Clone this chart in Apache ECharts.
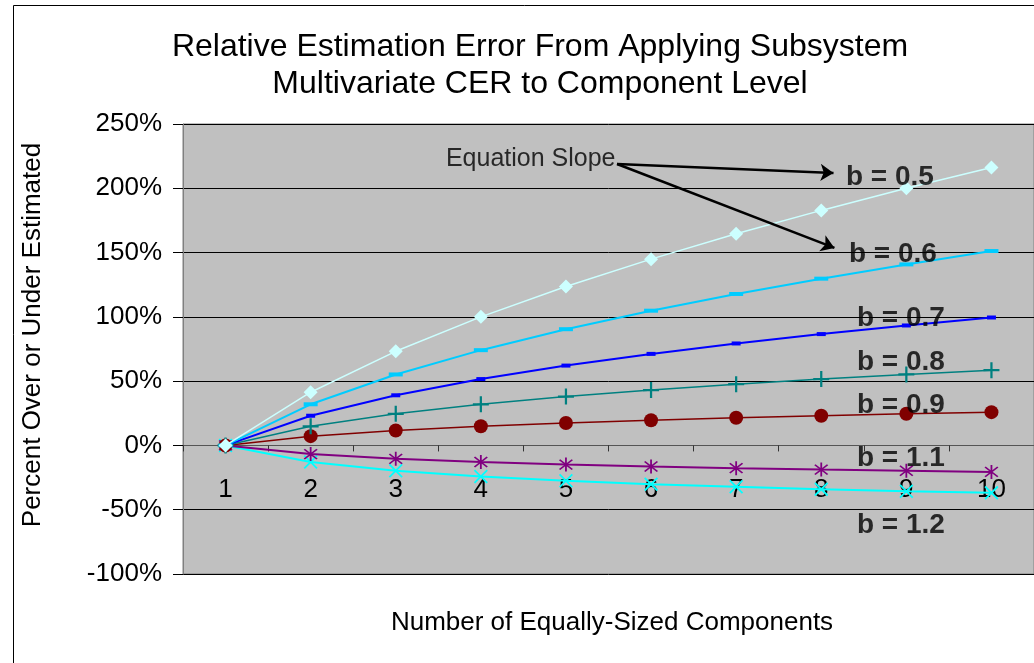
<!DOCTYPE html>
<html>
<head>
<meta charset="utf-8">
<script src="https://cdn.jsdelivr.net/npm/echarts@6/dist/echarts.min.js"></script>
<style>
html,body{margin:0;padding:0;background:#fff;}
#c{width:1034px;height:663px;}
</style>
</head>
<body>
<div id="c"></div>
<script>
// ---- data ----
var categories = ['1','2','3','4','5','6','7','8','9','10'];
var seriesNames = ['b = 0.5','b = 0.6','b = 0.7','b = 0.8','b = 0.9','b = 1.1','b = 1.2'];
var b05 = [0, 41.4, 73.2, 100.0, 123.6, 144.9, 164.6, 182.8, 200.0, 216.2];
var b06 = [0, 32.0, 55.2, 74.1, 90.4, 104.8, 117.8, 129.7, 140.8, 151.2];
var b07 = [0, 23.1, 39.0, 51.6, 62.1, 71.2, 79.3, 86.6, 93.3, 99.5];
var b08 = [0, 14.9, 24.6, 32.0, 38.0, 43.1, 47.6, 51.6, 55.2, 58.5];
var b09 = [0, 7.2, 11.6, 14.9, 17.5, 19.6, 21.5, 23.1, 24.6, 25.9];
var b11 = [0, -6.7, -10.4, -12.9, -14.9, -16.4, -17.7, -18.8, -19.7, -20.6];
var b12 = [0, -12.9, -19.7, -24.2, -27.5, -30.1, -32.2, -34.0, -35.6, -36.9];
var yTicks = {min: -100, max: 250, step: 50};

// annotation positions in data space (x: category position 1..10, y: percent)
var labelTexts = ['b = 0.5','b = 0.6','b = 0.7','b = 0.8','b = 0.9','b = 1.1','b = 1.2'];
var labelX = [8.284, 8.319, 8.413, 8.413, 8.413, 8.413, 8.413];
var labelY = [208.8, 148.9, 99.1, 64.9, 31.4, -9.8, -61.9];
var noteText = 'Equation Slope';
var noteX = 5.588, noteY = 222.8;
var arrowStart = [5.6, 218.9];
var arrowEnds = [[8.144, 211.9], [8.155, 153.6]];

// ---- chart ----
var chart = echarts.init(document.getElementById('c'), null, {renderer: 'canvas'});
var FONT = '"Liberation Sans", Arial, sans-serif';

var plusPath = 'path://M4.3,0H5.7V4.3H10V5.7H5.7V10H4.3V5.7H0V4.3H4.3Z';
var starPath = 'path://M4.5,0H5.5V10H4.5Z M1.15,1.85L1.85,1.15L8.85,8.15L8.15,8.85Z M8.15,1.15L8.85,1.85L1.85,8.85L1.15,8.15Z';
var xPath = 'path://M1.15,1.85L1.85,1.15L8.85,8.15L8.15,8.85Z M8.15,1.15L8.85,1.85L1.85,8.85L1.15,8.15Z';

function lineSeries(name, data, color, width, symbol, size, z) {
  return {
    name: name, type: 'line', data: data, z: z,
    xAxisIndex: 0, yAxisIndex: 0,
    symbol: symbol, symbolSize: size, showSymbol: true,
    lineStyle: {color: color, width: width},
    itemStyle: {color: color, borderWidth: 0},
    emphasis: {disabled: true},
    animation: false
  };
}

var labelData = labelTexts.map(function (t, i) { return [labelX[i], labelY[i], t]; });
var plotRect = {left: 183, top: 124, width: 853, height: 450};

var option = {
  backgroundColor: '#ffffff',
  animation: false,
  title: {
    text: 'Relative Estimation Error From Applying Subsystem\nMultivariate CER to Component Level',
    left: 535, top: 24, textAlign: 'center',
    textStyle: {fontFamily: FONT, fontSize: 32, fontWeight: 'normal', color: '#000', lineHeight: 37}
  },
  grid: [{
    left: plotRect.left, top: plotRect.top, width: plotRect.width, height: plotRect.height,
    show: true, backgroundColor: '#c0c0c0', borderColor: '#808080', borderWidth: 1,
    containLabel: false
  }, {
    left: plotRect.left, top: plotRect.top, width: plotRect.width, height: plotRect.height,
    show: false, containLabel: false
  }],
  xAxis: [{
    gridIndex: 0, type: 'category', data: categories, boundaryGap: true,
    axisLine: {show: true, onZero: false, lineStyle: {color: '#555', width: 1}},
    axisTick: {show: true, inside: false, length: 6, alignWithLabel: false, lineStyle: {color: '#333'}},
    axisLabel: {fontFamily: FONT, fontSize: 26, color: '#000', margin: 31},
    splitLine: {show: false}
  }, {
    gridIndex: 1, type: 'value', min: 0.5, max: 10.5, show: false
  }],
  yAxis: [{
    gridIndex: 0, type: 'value', min: yTicks.min, max: yTicks.max, interval: yTicks.step,
    axisLine: {show: true, lineStyle: {color: '#808080'}},
    axisTick: {show: true, length: 10, lineStyle: {color: '#000'}},
    axisLabel: {fontFamily: FONT, fontSize: 26, color: '#000', margin: 21, formatter: '{value}%'},
    splitLine: {show: true, lineStyle: {color: '#000', width: 1}}
  }, {
    gridIndex: 1, type: 'value', min: yTicks.min, max: yTicks.max, show: false
  }],
  graphic: [
    {type: 'rect', shape: {x: 13.5, y: 5.5, width: 1100, height: 800}, style: {fill: 'none', stroke: '#000', lineWidth: 1}, silent: true, z: 0},
    {type: 'text', x: 33, y: 335, rotation: Math.PI / 2, style: {text: 'Percent Over or Under Estimated', font: '26px ' + FONT, fill: '#000', textAlign: 'center', textVerticalAlign: 'middle'}},
    {type: 'text', x: 612, y: 623, style: {text: 'Number of Equally-Sized Components', font: '26px ' + FONT, fill: '#000', textAlign: 'center', textVerticalAlign: 'middle'}}
  ],
  series: [
    lineSeries(seriesNames[6], b12, '#00ffff', 2, xPath, 14, 2),
    lineSeries(seriesNames[5], b11, '#800080', 2, starPath, 14, 3),
    lineSeries(seriesNames[4], b09, '#800000', 1.5, 'circle', 14, 4),
    lineSeries(seriesNames[3], b08, '#008080', 1.5, plusPath, 16, 5),
    lineSeries(seriesNames[2], b07, '#0000ff', 2, 'rect', [9, 4], 6),
    lineSeries(seriesNames[1], b06, '#00ccff', 2, 'rect', [14, 4], 7),
    lineSeries(seriesNames[0], b05, '#ccffff', 1.5, 'diamond', 14, 8),
    {
      type: 'lines', coordinateSystem: 'cartesian2d', xAxisIndex: 1, yAxisIndex: 1, z: 20,
      polyline: false, silent: true, animation: false,
      symbol: ['none', 'arrow'], symbolSize: [0, 13],
      lineStyle: {color: '#000', width: 2.5, opacity: 1, curveness: 0},
      data: arrowEnds.map(function (e) { return {coords: [arrowStart, e]}; })
    },
    {
      type: 'scatter', xAxisIndex: 1, yAxisIndex: 1, z: 21, silent: true, animation: false,
      symbolSize: 1, itemStyle: {color: 'rgba(0,0,0,0)'},
      data: labelData,
      label: {
        show: true, position: 'right', distance: 0,
        formatter: function (p) { return p.value[2]; },
        fontFamily: FONT, fontSize: 28, fontWeight: 'bold', color: '#000'
      }
    },
    {
      type: 'scatter', xAxisIndex: 1, yAxisIndex: 1, z: 21, silent: true, animation: false,
      symbolSize: 1, itemStyle: {color: 'rgba(0,0,0,0)'},
      data: [[noteX, noteY, noteText]],
      label: {
        show: true, position: 'left', distance: 0,
        formatter: function (p) { return p.value[2]; },
        fontFamily: FONT, fontSize: 25, fontWeight: 'normal', color: '#000'
      }
    }
  ]
};
chart.setOption(option);

// place the category axis on the 0% line (position taken from the value axis scale)
var yZero = chart.convertToPixel({yAxisIndex: 0}, 0);
var yBottom = chart.convertToPixel({yAxisIndex: 0}, yTicks.min);
chart.setOption({xAxis: [{offset: yZero - yBottom}]});
</script>
</body>
</html>
